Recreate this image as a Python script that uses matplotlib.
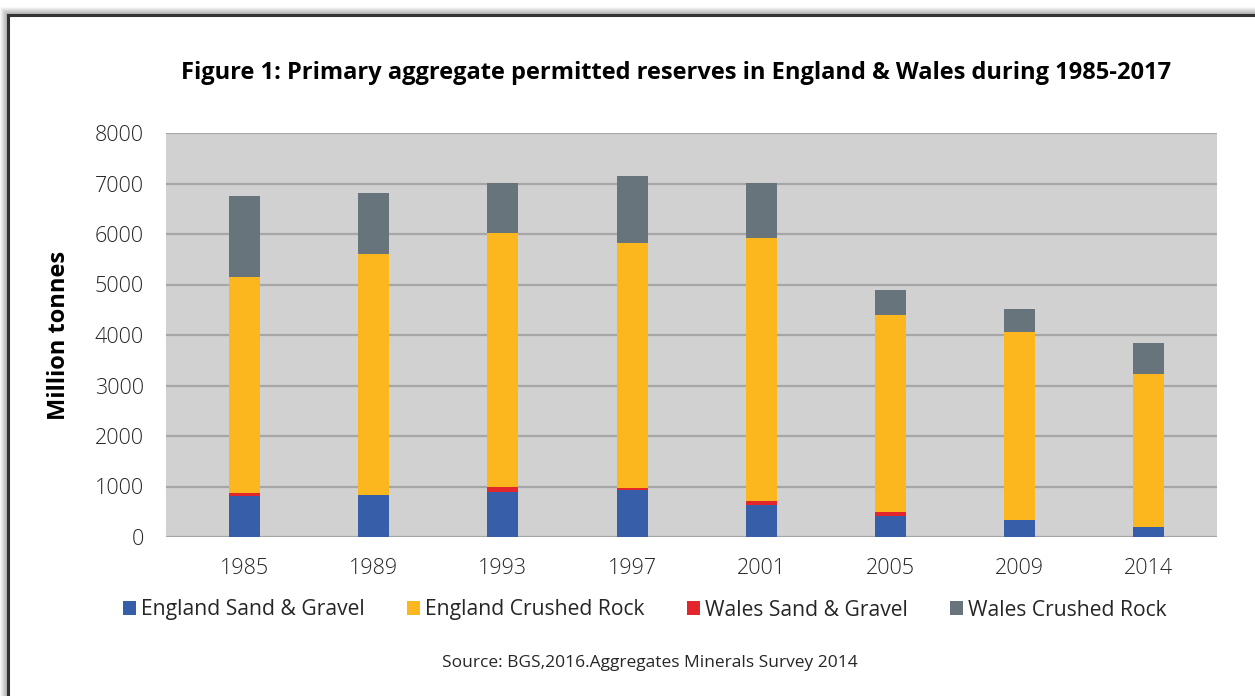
import numpy as np
import matplotlib.pyplot as plt
from matplotlib.patches import Rectangle, Patch

years = ['1985', '1989', '1993', '1997', '2001', '2005', '2009', '2014']
eng_sg = [816, 830, 892, 930, 640, 410, 340, 207]
eng_cr = [4280, 4783, 5039, 4868, 5203, 3910, 3720, 3013]
wal_sg = [55, 0, 90, 32, 77, 80, 0, 0]
wal_cr = [1610, 1207, 980, 1316, 1080, 495, 457, 630]

series = ['England Sand & Gravel', 'England Crushed Rock', 'Wales Sand & Gravel', 'Wales Crushed Rock']
colors = ['#375fa9', '#fdb71e', '#e3262b', '#67747c']

plt.rcParams['font.family'] = ['Open Sans', 'DejaVu Sans']
txt = '#262626'

W, H = 1255, 696
fig = plt.figure(figsize=(W / 100, H / 100), dpi=100)

# frame with a soft shadow
for i, a in enumerate(np.linspace(0.28, 0.02, 8)):
    off = i + 1
    fig.patches.append(Rectangle(((8 - off) / W, -0.1), 1.2, (696 - 15 + off) / H + 0.1,
                                 transform=fig.transFigure, fill=False,
                                 edgecolor='black', alpha=a, linewidth=0.9, zorder=-3))
fig.patches.append(Rectangle((8 / W, -0.1), 1.2, (696 - 15) / H + 0.1,
                             transform=fig.transFigure, facecolor='white',
                             edgecolor='#333333', linewidth=2.2, zorder=-2))

ax = fig.add_axes([166 / W, 1 - 537 / H, (1217 - 166) / W, (537 - 133) / H])
ax.set_facecolor('#d1d1d1')
x = np.arange(len(years))
bw = 0.24
bottom = np.zeros(len(years))
for vals, c, name in zip([eng_sg, wal_sg, eng_cr, wal_cr],
                         [colors[0], colors[2], colors[1], colors[3]],
                         [series[0], series[2], series[1], series[3]]):
    ax.bar(x, vals, bw, bottom=bottom, color=c, label=name, zorder=3)
    bottom += np.array(vals)

ax.set_xlim(-0.609, 7.53)
ax.set_ylim(0, 8000)
ax.set_yticks(np.arange(0, 8001, 1000))
ax.set_xticks(x)
ax.set_xticklabels(years)
ax.grid(axis='y', color='#a6a6a6', linewidth=1.6, zorder=1)
ax.set_axisbelow(True)
for s in ax.spines.values():
    s.set_visible(False)
ax.tick_params(length=0, labelsize=15.5, colors=txt)
ax.tick_params(axis='y', pad=16)
ax.tick_params(axis='x', pad=15)
for lab in ax.get_xticklabels() + ax.get_yticklabels():
    lab.set_fontweight('light')

ax.set_ylabel('Million tonnes', fontsize=17, fontweight='bold', color='black')
ax.yaxis.set_label_coords(-0.0905, 0.5)

fig.text(676 / W, 1 - 73 / H,
         'Figure 1: Primary aggregate permitted reserves in England & Wales during 1985-2017',
         ha='center', va='center', fontsize=17, fontweight='bold', color='black')

handles = [Patch(facecolor=c, edgecolor='none') for c in colors]
fig.legend(handles, series, loc='center', bbox_to_anchor=(645 / W, 1 - 610 / H), ncol=4,
           frameon=False, fontsize=15.2, handlelength=0.6, handleheight=0.6,
           handletextpad=0.25, columnspacing=2.0, labelcolor=txt)

fig.text(650 / W, 1 - 663 / H, 'Source: BGS,2016.Aggregates Minerals Survey 2014',
         ha='center', va='center', fontsize=12.5, color=txt)

fig.savefig('out.png', dpi=100)
